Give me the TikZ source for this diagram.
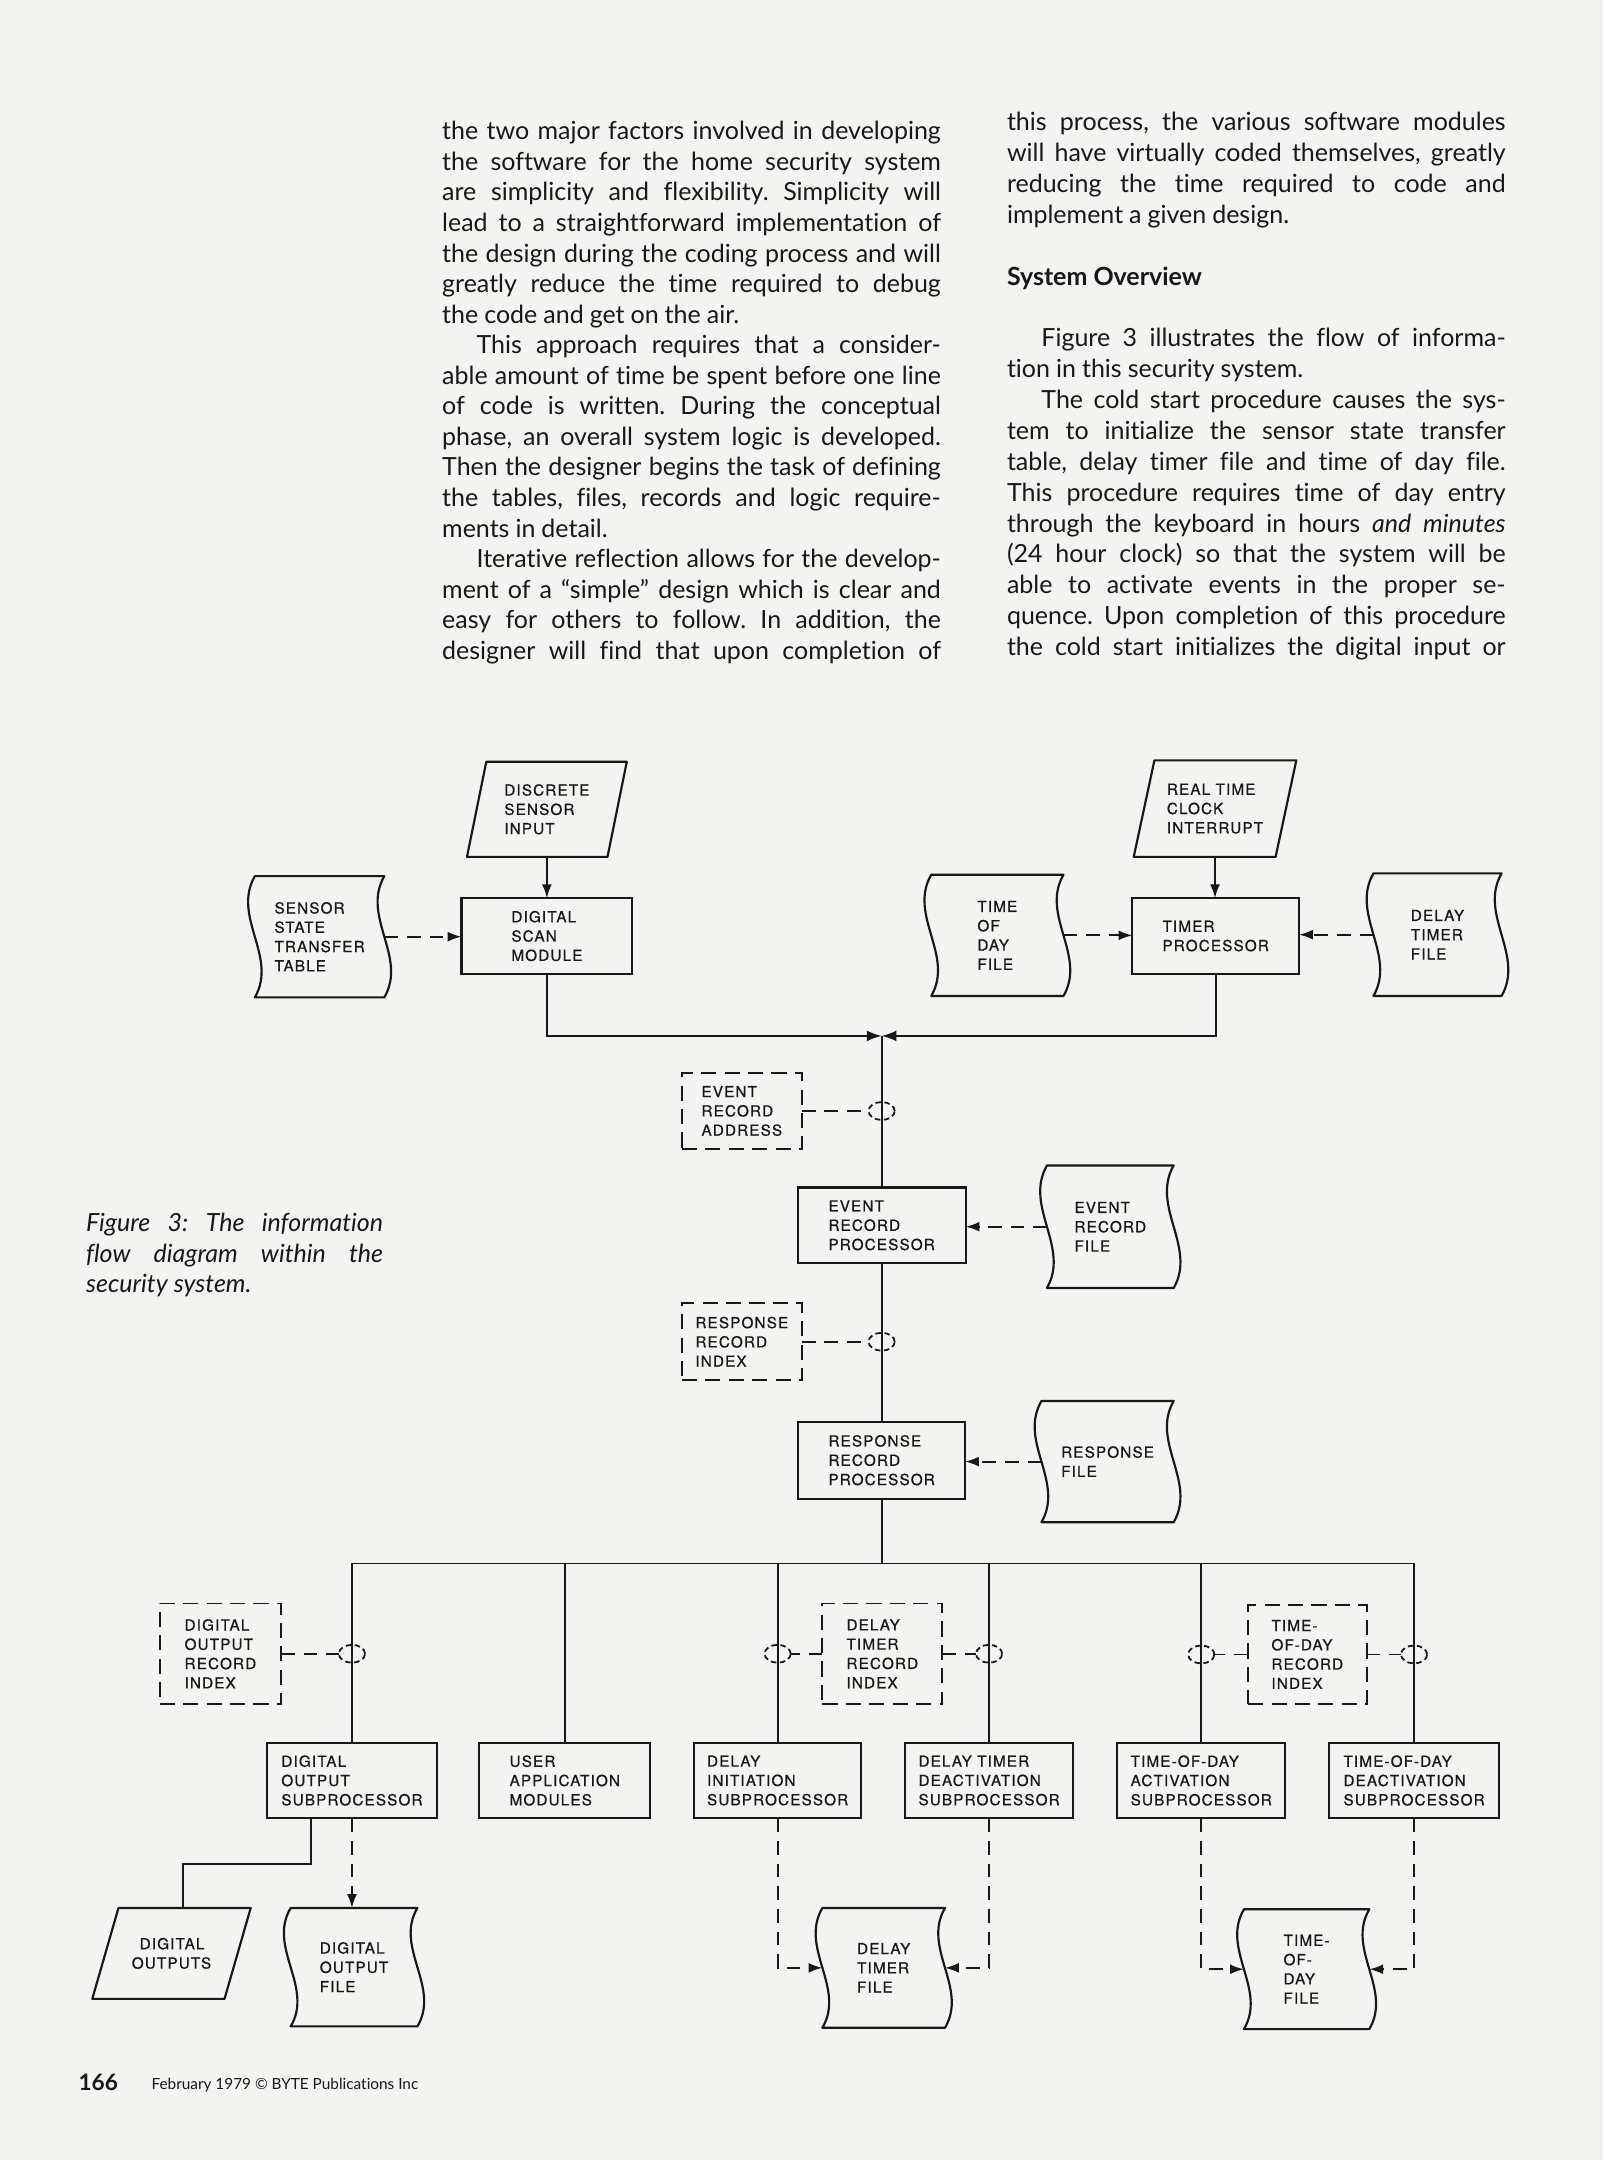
\documentclass[tikz,border=0pt]{standalone}
\usepackage{fontspec}
\setmainfont{Lato}[Ligatures={NoCommon}]
\newfontfamily\diagfont[LetterSpace=7.5,FakeBold=0.7]{TeX Gyre Heros}
\usetikzlibrary{arrows.meta,calc,shapes.geometric}
\definecolor{pagebg}{RGB}{243,243,241}
\definecolor{ink}{RGB}{24,24,24}
\def\U{0.7pt}
\def\wv{17}
\newdimen\colw \colw=253.4pt
\newdimen\parind \parind=17.5pt
\newcommand\jlw[2]{\hbox to#1{\spaceskip=0.24em plus 1fil minus 0.12em\relax #2}}
\newcommand\llw[2]{\hbox to#1{\spaceskip=0.24em plus 0.05em minus 0.05em\relax #2\hfil}}
\newcommand\jl[1]{\jlw{\colw}{#1}}
\newcommand\lastl[1]{\llw{\colw}{#1}}
\newcommand\paranode[6]{%
  \node[dtext, minimum width=#3*\U, minimum height=#4*\U] (#1) at (#2) {#6};
  \draw[shapeline] ($(#1.north west)+(#5/2,0)$) -- ($(#1.north east)+(#5/2,0)$)
    -- ($(#1.south east)+(-#5/2,0)$) -- ($(#1.south west)+(-#5/2,0)$) -- cycle;}
\newcommand\docnode[5]{%
  \node[dtext, minimum width=#3*\U, minimum height=#4*\U] (#1) at (#2) {#5};
  \draw[shapeline] (#1.north west) -- (#1.north east)
    .. controls ($(#1.north east)+(-\wv,#4/3)$) and ($(#1.south east)+(\wv,-#4/3)$) .. (#1.south east)
    -- (#1.south west)
    .. controls ($(#1.south west)+(\wv,-#4/3)$) and ($(#1.north west)+(-\wv,#4/3)$) .. (#1.north west)
    -- cycle;}
\tikzset{
  every node/.style={inner sep=0pt, outer sep=0pt, text=ink},
  dtext/.style={font=\diagfont\fontsize{7.75pt}{9.8pt}\selectfont, align=left},
  procbox/.style={dtext, rectangle, draw=ink, line width=1.1pt},
  recbox/.style={dtext, rectangle, draw=ink, line width=1pt, dash pattern=on 7.7pt off 4.2pt},
  shapeline/.style={draw=ink, line width=1.1pt, line join=round},
  tap/.style={ellipse, draw=ink, line width=0.9pt, dash pattern=on 2.8pt off 1.8pt,
              minimum width=19*\U, minimum height=13*\U},
  flow/.style={draw=ink, line width=0.95pt},
  dflow/.style={flow, dash pattern=on 7pt off 4.5pt},
  arr/.style={-{Latex[length=7pt,width=5pt]}},
  bow/.style={-{Latex[length=7.5pt,width=5.5pt]}},
  bodytext/.style={anchor=base west, text=ink, align=left},
}
\begin{document}
\begin{tikzpicture}[x=0.7pt,y=-0.7pt]
\fill[pagebg] (0,0) rectangle (1164,1568);
\useasboundingbox (0,0) rectangle (1164,1568);

% ---------- article text ----------
\node[bodytext] (col1) at (321,101.5) {\vtop{\fontsize{12.7pt}{15.53pt}\selectfont\frenchspacing
\jl{the two major factors involved in developing}
\jl{the software for the home security system}
\jl{are simplicity and flexibility. Simplicity will}
\jl{lead to a straightforward implementation of}
\jl{the design during the coding process and will}
\jl{greatly reduce the time required to debug}
\lastl{the code and get on the air.}
\jl{\kern\parind This approach requires that a consider-}
\jl{able amount of time be spent before one line}
\jl{of code is written. During the conceptual}
\jl{phase, an overall system logic is developed.}
\jl{Then the designer begins the task of defining}
\jl{the tables, files, records and logic require-}
\lastl{ments in detail.}
\jl{\kern\parind Iterative reflection allows for the develop-}
\jl{ment of a “simple” design which is clear and}
\jl{easy for others to follow. In addition, the}
\jl{designer will find that upon completion of}}};

\node[bodytext] (col2) at (731,95) {\vtop{\fontsize{12.7pt}{15.68pt}\selectfont\frenchspacing
\jl{this process, the various software modules}
\jl{will have virtually coded themselves, greatly}
\jl{reducing the time required to code and}
\lastl{implement a given design.}
\lastl{}
\lastl{\textbf{System Overview}}
\lastl{}
\jl{\kern\parind Figure 3 illustrates the flow of informa-}
\lastl{tion in this security system.}
\jl{\kern\parind The cold start procedure causes the sys-}
\jl{tem to initialize the sensor state transfer}
\jl{table, delay timer file and time of day file.}
\jl{This procedure requires time of day entry}
\jl{through the keyboard in hours \textit{and minutes}}
\jl{(24 hour clock) so that the system will be}
\jl{able to activate events in the proper se-}
\jl{quence. Upon completion of this procedure}
\jl{the cold start initializes the digital input or}}};

\node[bodytext] (caption) at (62.5,894) {\vtop{\itshape\fontsize{12.7pt}{15.5pt}\selectfont\frenchspacing
\jlw{150.9pt}{Figure 3: The information}
\jlw{150.9pt}{flow diagram within the}
\llw{150.9pt}{security system.}}};

\node[bodytext] (pagenum) at (57,1517.5) {\bfseries\fontsize{11.5pt}{12pt}\selectfont 166};
\node[bodytext] (footer) at (110,1517) {\fontsize{7.8pt}{9pt}\selectfont February 1979 © BYTE Publications Inc};

% ---------- top section ----------
\paranode{DSI}{397,587.5}{102}{69}{14}{DISCRETE\\SENSOR\\INPUT}
\node[procbox, minimum width=124*\U, minimum height=55*\U] (DSM) at (397,679.5) {DIGITAL\\SCAN\\MODULE};
\docnode{SSTT}{232,680}{94}{88}{SENSOR\\STATE\\TRANSFER\\TABLE}

\paranode{RTC}{882,587}{103}{70}{15}{REAL TIME\\CLOCK\\INTERRUPT}
\node[procbox, minimum width=121*\U, minimum height=55*\U] (TP) at (882.5,679.5) {TIMER\\PROCESSOR};
\docnode{TODf}{724,679}{96}{88}{TIME\\OF\\DAY\\FILE}
\docnode{DTFt}{1043.5,678.5}{93}{89}{DELAY\\TIMER\\FILE}

\draw[flow, arr] (DSI.south) -- (DSM.north);
\draw[flow, arr] (RTC.south) -- (RTC.south |- TP.north);
\draw[dflow, arr] (SSTT.east) -- (SSTT.east -| DSM.west);
\draw[dflow, arr] (TODf.east) -- (TODf.east -| TP.west);
\draw[dflow, arr] (DTFt.west) -- (DTFt.west -| TP.east);

% ---------- middle section ----------
\coordinate (J1) at (640,752);
\node[recbox, minimum width=87*\U, minimum height=55*\U] (ERA) at (538.5,806.5) {EVENT\\RECORD\\ADDRESS};
\node[procbox, minimum width=122*\U, minimum height=55*\U] (ERP) at (640,889.5) {EVENT\\RECORD\\PROCESSOR};
\docnode{ERF}{806,890.5}{92}{89}{EVENT\\RECORD\\FILE}
\node[recbox, minimum width=87*\U, minimum height=56*\U] (RRI) at (538.5,974) {RESPONSE\\RECORD\\INDEX};
\node[procbox, minimum width=121*\U, minimum height=56*\U] (RRP) at (640,1060) {RESPONSE\\RECORD\\PROCESSOR};
\docnode{RF}{804,1061}{96}{88}{RESPONSE\\FILE}

\draw[flow, bow] (DSM.south) |- (J1);
\draw[flow, bow] (TP.south) |- (J1);
\draw[flow] (J1) -- (ERP.north);
\draw[flow] (ERP.south) -- (RRP.north);
\node[tap] (e1) at (640,806.5) {};
\node[tap] (e2) at (640,974) {};
\draw[dflow] (ERA.east) -- (e1.west);
\draw[dflow] (RRI.east) -- (e2.west);
\draw[dflow, arr] (ERF.west) -- (ERF.west -| ERP.east);
\draw[dflow, arr] (RF.west) -- (RF.west -| RRP.east);

% ---------- lower section ----------
\coordinate (B2) at (640,1135);
\node[procbox, minimum width=123*\U, minimum height=55*\U] (DOS) at (255.5,1292.5) {DIGITAL\\OUTPUT\\SUBPROCESSOR};
\node[procbox, minimum width=124*\U, minimum height=55*\U] (UAM) at (410,1292.5) {USER\\APPLICATION\\MODULES};
\node[procbox, minimum width=121*\U, minimum height=55*\U] (DIS) at (564.5,1292.5) {DELAY\\INITIATION\\SUBPROCESSOR};
\node[procbox, minimum width=122*\U, minimum height=55*\U] (DTDS) at (718,1292.5) {DELAY TIMER\\DEACTIVATION\\SUBPROCESSOR};
\node[procbox, minimum width=122*\U, minimum height=55*\U] (TODAS) at (872,1292.5) {TIME-OF-DAY\\ACTIVATION\\SUBPROCESSOR};
\node[procbox, minimum width=123*\U, minimum height=55*\U] (TODDS) at (1026.5,1292.5) {TIME-OF-DAY\\DEACTIVATION\\SUBPROCESSOR};

\draw[flow] (RRP.south) -- (B2);
\draw[flow] (DOS.north) -- (DOS.north |- B2) -- (TODDS.north |- B2) -- (TODDS.north);
\foreach \n in {UAM,DIS,DTDS,TODAS} \draw[flow] (\n.north) -- (\n.north |- B2);

\node[recbox, minimum width=88*\U, minimum height=73*\U] (DORI) at (160,1200.5) {DIGITAL\\OUTPUT\\RECORD\\INDEX};
\node[recbox, minimum width=87*\U, minimum height=73*\U] (DTRI) at (640.5,1200.5) {DELAY\\TIMER\\RECORD\\INDEX};
\node[recbox, minimum width=86*\U, minimum height=72*\U] (TODRI) at (949,1201) {TIME-\\OF-DAY\\RECORD\\INDEX};
\node[tap] (e3) at (255.5,1200.5) {};
\node[tap] (e4) at (564.5,1200.5) {};
\node[tap] (e5) at (718,1200.5) {};
\node[tap] (e6) at (872,1201) {};
\node[tap] (e7) at (1026.5,1201) {};
\draw[dflow] (DORI.east) -- (e3.west);
\draw[dflow] (DTRI.west) -- (e4.east);
\draw[dflow] (DTRI.east) -- (e5.west);
\draw[dflow] (TODRI.west) -- (e6.east);
\draw[dflow] (TODRI.east) -- (e7.west);

% ---------- bottom section ----------
\paranode{DO}{124.5,1418}{96}{66}{19}{\hspace*{4pt}DIGITAL\\OUTPUTS}
\docnode{DOF}{257,1428}{92}{86}{DIGITAL\\OUTPUT\\FILE}
\docnode{DTFb}{641.5,1428.5}{89}{87}{DELAY\\TIMER\\FILE}
\docnode{TODb}{948.5,1429.5}{91}{87}{TIME-\\OF-\\DAY\\FILE}

\draw[flow] ([xshift=-29.5*\U]DOS.south) -- ++(0,33) -| ([xshift=8.5*\U]DO.north);
\draw[dflow, arr] (DOS.south) -- (DOS.south |- DOF.north);
\draw[dflow, arr] (DIS.south) |- (DTFb.west);
\draw[dflow, arr] (DTDS.south) |- (DTFb.east);
\draw[dflow, arr] (TODAS.south) |- (TODb.west);
\draw[dflow, arr] (TODDS.south) |- (TODb.east);
\end{tikzpicture}
\end{document}
